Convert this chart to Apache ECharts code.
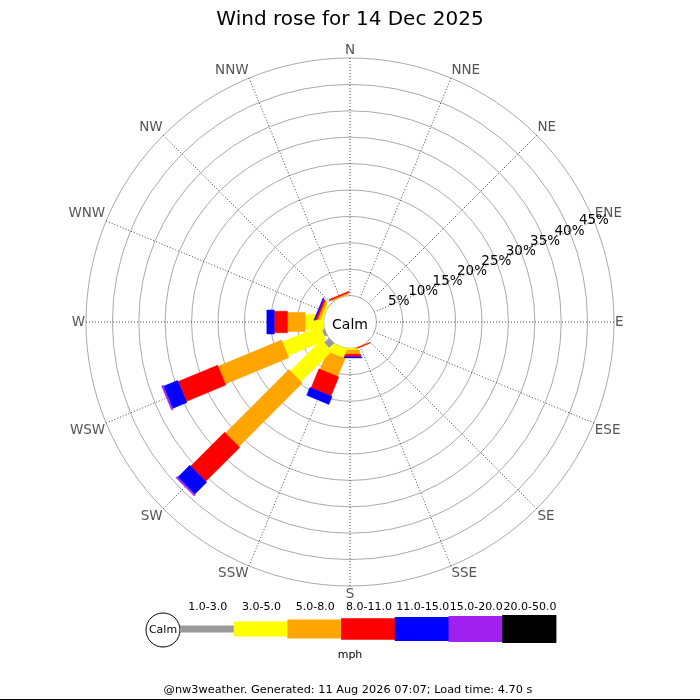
<!DOCTYPE html>
<html>
<head>
<meta charset="utf-8">
<script src="https://cdn.jsdelivr.net/npm/echarts@6/dist/echarts.min.js"></script>
<style>
  html, body { margin: 0; padding: 0; background: #fff; }
  #chart { width: 700px; height: 700px; }
</style>
</head>
<body>
<div id="chart"></div>
<script>
// compass directions, clockwise from N
var dirs = ['N', 'NNE', 'NE', 'ENE', 'E', 'ESE', 'SE', 'SSE', 'S', 'SSW', 'SW', 'WSW', 'W', 'WNW', 'NW', 'NNW'];
// speed bands (mph)
var bands = ['1.0-3.0', '3.0-5.0', '5.0-8.0', '8.0-11.0', '11.0-15.0', '15.0-20.0', '20.0-50.0'];
var bandColors = ['#999999', '#ffff00', '#ffa500', '#ff0000', '#0000ff', '#a020f0', '#000000'];
var bandWidths = [7, 15, 19, 21.5, 24, 26, 28]; // px, thicker for faster bands

// % of time per direction, one array per band (N..NNW)
var b1to3   = [0, 0, 0, 0, 0, 0, 0, 0,    0,   0,    1.25, 0.5, 0,    0,    0, 0];
var b3to5   = [0, 0, 0, 0, 0, 0, 0, 0,    0.3, 1.8,  8.3,  7.8, 3.5,  0.4,  0, 0];
var b5to8   = [0, 0, 0, 0, 0, 0, 0, 0.05, 0.8, 3.65, 17,   13,  3.35, 0.5,  0, 0.25];
var b8to11  = [0, 0, 0, 0, 0, 0, 0, 0.1,  0.5, 3.9,  9.1,  8.1, 2.5,  0.35, 0, 0.2];
var b11to15 = [0, 0, 0, 0, 0, 0, 0, 0,    0.2, 1.6,  3.2,  2.9, 1.4,  0.2,  0, 0];
var b15to20 = [0, 0, 0, 0, 0, 0, 0, 0,    0,   0,    0.3,  0.3, 0,    0,    0, 0];
var b20to50 = [0, 0, 0, 0, 0, 0, 0, 0,    0,   0,    0,    0,   0,    0,    0, 0];
var bandData = [b1to3, b3to5, b5to8, b8to11, b11to15, b15to20, b20to50];

var radiusTicks = [0, 5, 10, 15, 20, 25, 30, 35, 40, 45];

// angle axis starts at ENE (where the % labels sit), value 0 = ENE
function dirAngle(i) {
  return (22.5 * i - 67.5 + 360) % 360;
}

// build stacked segments [outer, angle, inner, band]
var segs = [];
for (var d = 0; d < dirs.length; d++) {
  var acc = 0;
  for (var b = 0; b < bandData.length; b++) {
    var v = bandData[b][d];
    if (v > 0) {
      segs.push([acc + v, dirAngle(d), acc, b]);
      acc += v;
    }
  }
}

var chart = echarts.init(document.getElementById('chart'));

var legendX = 180, legendW = 53.7, legendY = 629;
var legendItems = [];
legendItems.push({
  type: 'circle', shape: { cx: 163, cy: legendY + 1, r: 17 },
  style: { fill: '#fff', stroke: '#000', lineWidth: 1 }
});
legendItems.push({
  type: 'text', x: 163, y: legendY + 1,
  style: { text: 'Calm', fill: '#000', font: '11px "DejaVu Sans"', align: 'center', verticalAlign: 'middle' }
});
for (var k = 0; k < bands.length; k++) {
  legendItems.push({
    type: 'rect',
    shape: { x: legendX + k * legendW, y: legendY - bandWidths[k] / 2, width: legendW + 0.5, height: bandWidths[k] },
    style: { fill: bandColors[k] }
  });
  legendItems.push({
    type: 'text', x: legendX + k * legendW + legendW / 2 + 1, y: 607,
    style: { text: bands[k], fill: '#000', font: '11px "DejaVu Sans"', align: 'center', verticalAlign: 'middle' }
  });
}
legendItems.push({
  type: 'text', x: 350, y: 655,
  style: { text: 'mph', fill: '#000', font: '11px "DejaVu Sans"', align: 'center', verticalAlign: 'middle' }
});
legendItems.push({
  type: 'text', x: 348, y: 690,
  style: { text: '@nw3weather. Generated: 11 Aug 2026 07:07; Load time: 4.70 s', fill: '#000', font: '11.3px "DejaVu Sans"', align: 'center', verticalAlign: 'middle' }
});
legendItems.push({
  type: 'line', shape: { x1: 0, y1: 699.5, x2: 700, y2: 699.5 },
  style: { stroke: '#000', lineWidth: 1 }
});

var pctLabel = {
  margin: 0,
  align: 'center',
  verticalAlign: 'middle',
  color: '#000',
  fontFamily: 'DejaVu Sans',
  fontSize: 13.5
};

var option = {
  backgroundColor: '#fff',
  animation: false,
  title: [{
    text: 'Wind rose for 14 Dec 2025',
    left: 'center', top: 5,
    textStyle: { fontFamily: 'DejaVu Sans', fontSize: 20, fontWeight: 'normal', color: '#000' }
  }, {
    text: 'Calm',
    left: 'center', top: 313,
    textStyle: { fontFamily: 'DejaVu Sans', fontSize: 14, fontWeight: 'normal', color: '#000' }
  }],
  polar: [
    { center: [350, 322], radius: [26.4, 264] },
    { center: [350, 322], radius: [26.4, 264] } // second copy only carries the 40% label
  ],
  angleAxis: [{
    polarIndex: 0,
    type: 'value',
    min: 0, max: 360, interval: 22.5,
    startAngle: 22.5,
    clockwise: true,
    axisLine: { show: false },
    axisTick: { show: false },
    axisLabel: {
      margin: 1,
      color: '#555',
      fontFamily: 'DejaVu Sans',
      fontSize: 13.5,
      formatter: function (v) { return dirs[Math.round(v / 22.5 + 3) % 16]; }
    },
    splitLine: { show: true, lineStyle: { color: '#444', type: [1, 2], width: 1 } }
  }, {
    polarIndex: 1,
    type: 'value',
    min: 0, max: 360, interval: 22.5,
    startAngle: 22.5,
    clockwise: true,
    axisLine: { show: false },
    axisTick: { show: false },
    axisLabel: { show: false },
    splitLine: { show: false }
  }],
  radiusAxis: [{
    polarIndex: 0,
    type: 'value',
    min: radiusTicks[0], max: radiusTicks[radiusTicks.length - 1], interval: 5,
    axisLine: { show: false },
    axisTick: { show: false },
    axisLabel: Object.assign({}, pctLabel, {
      showMaxLabel: true,
      formatter: function (v) { return (v === 0 || v === 40) ? '' : v + '%'; }
    }),
    splitLine: { show: true, lineStyle: { color: '#aaa', width: 1 } }
  }, {
    polarIndex: 1,
    type: 'value',
    min: radiusTicks[0], max: radiusTicks[radiusTicks.length - 1], interval: 5,
    axisLine: { show: false },
    axisTick: { show: false },
    axisLabel: Object.assign({}, pctLabel, {
      formatter: function (v) { return v === 40 ? v + '%' : ''; }
    }),
    splitLine: { show: false }
  }],
  series: [{
    type: 'custom',
    coordinateSystem: 'polar',
    polarIndex: 0,
    encode: { radius: 0, angle: 1 },
    clip: false,
    z: 5,
    renderItem: function (params, api) {
      var rOut = api.value(0), ang = api.value(1), rIn = api.value(2), band = api.value(3);
      var c = api.coord([0, ang]), o = api.coord([45, ang]);
      var len = Math.sqrt((o[0] - c[0]) * (o[0] - c[0]) + (o[1] - c[1]) * (o[1] - c[1]));
      var ux = (o[0] - c[0]) / len, uy = (o[1] - c[1]) / len;
      var a = api.coord([rIn, ang]), b = api.coord([rOut, ang]);
      var hw = bandWidths[band] / 2;
      var nx = -uy * hw, ny = ux * hw;
      return {
        type: 'polygon',
        shape: { points: [[a[0] + nx, a[1] + ny], [b[0] + nx, b[1] + ny], [b[0] - nx, b[1] - ny], [a[0] - nx, a[1] - ny]] },
        style: { fill: bandColors[band], stroke: bandColors[band], lineWidth: 0.5 }
      };
    },
    data: segs
  }],
  graphic: legendItems
};

chart.setOption(option);
</script>
</body>
</html>
